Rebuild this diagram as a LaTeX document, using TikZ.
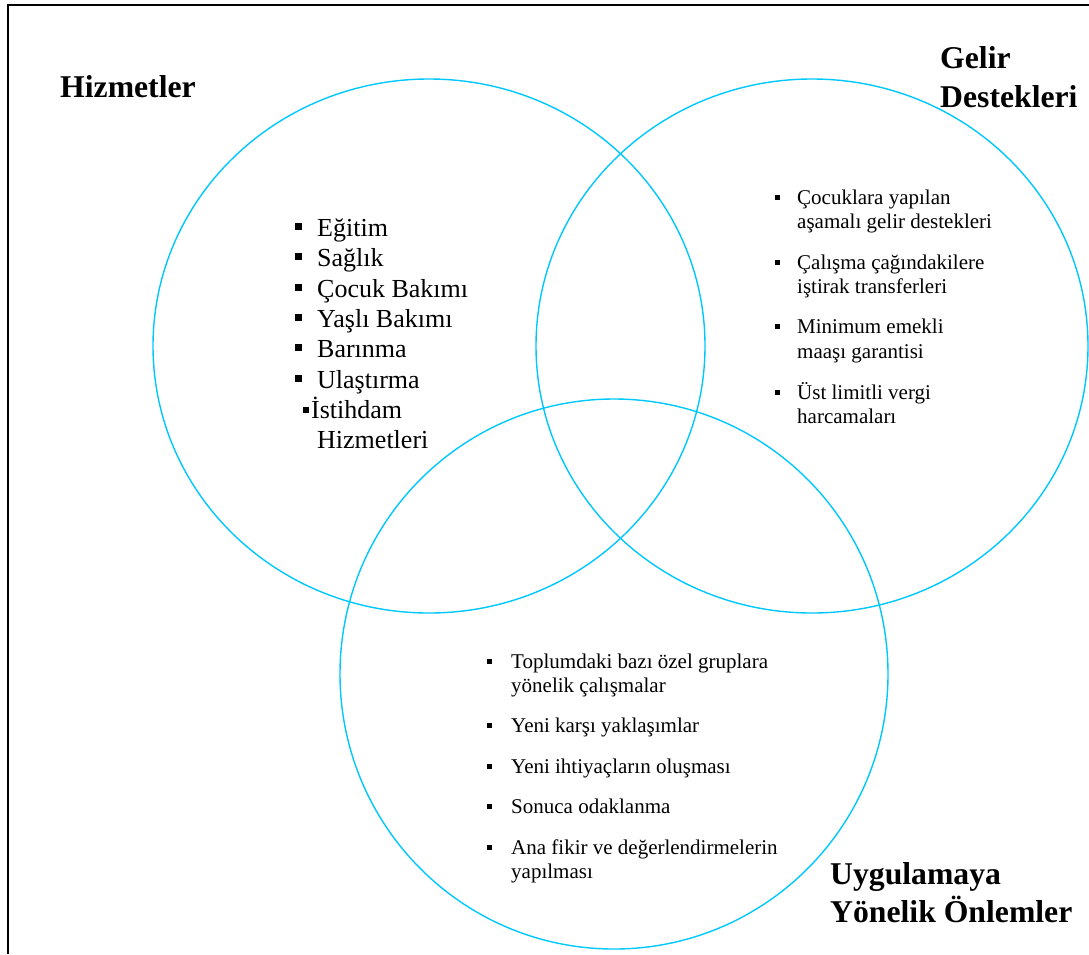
\documentclass[tikz,border=0pt]{standalone}
\usepackage{fontspec}
\setmainfont{Liberation Serif}
\definecolor{vennblue}{RGB}{0,200,255}
\begin{document}
\begin{tikzpicture}[x=1pt,y=-1pt,
  title/.style={font=\fontsize{31.7}{36}\selectfont\bfseries, anchor=base west, inner sep=0pt},
  bigitem/.style={font=\fontsize{26}{30}\selectfont, anchor=base west, inner sep=0pt},
  smallitem/.style={font=\fontsize{21}{24}\selectfont, anchor=base west, inner sep=0pt},
  venn/.style={draw=vennblue, line width=1.4pt},
  frameline/.style={draw=black, line width=1.6pt}]
\useasboundingbox (0,0) rectangle (1089,954);
\draw[frameline] (8,954) -- (8,5) -- (1089,5);

% circles
\draw[venn] (429,346) ellipse [x radius=276pt, y radius=267pt];
\draw[venn] (812,346) ellipse [x radius=276pt, y radius=267pt];
\draw[venn] (614,674) ellipse [x radius=274pt, y radius=275pt];

% titles
\node[title] (hiz) at (60,97) {Hizmetler};
\node[title] (gel1) at (940,68) {Gelir};
\node[title] (gel2) at (940,107) {Destekleri};
\node[title] (uyg1) at (830,884) {Uygulamaya};
\node[title] (uyg2) at (830,922) {Yönelik Önlemler};

% left list
\node[bigitem] (l1) at (317,236) {Eğitim};
\node[bigitem] (l2) at (317,266) {Sağlık};
\node[bigitem] (l3) at (317,297) {Çocuk Bakımı};
\node[bigitem] (l4) at (317,327) {Yaşlı Bakımı};
\node[bigitem] (l5) at (317,357) {Barınma};
\node[bigitem] (l6) at (317,388) {Ulaştırma};
\node[bigitem] (l7) at (311,418) {İstihdam};
\node[bigitem] (l8) at (317,448) {Hizmetleri};
\foreach \b in {236,266,297,327,357,388}
  \fill (295,\b-6) rectangle ++(7,-7);
\fill (303,413) rectangle ++(6,-6);

% right list
\node[smallitem] (r1) at (797,204) {Çocuklara yapılan};
\node[smallitem] (r2) at (797,228) {aşamalı gelir destekleri};
\node[smallitem] (r3) at (797,269) {Çalışma çağındakilere};
\node[smallitem] (r4) at (797,293) {iştirak transferleri};
\node[smallitem] (r5) at (797,333) {Minimum emekli};
\node[smallitem] (r6) at (797,358) {maaşı garantisi};
\node[smallitem] (r7) at (797,399) {Üst limitli vergi};
\node[smallitem] (r8) at (797,423) {harcamaları};
\foreach \b in {204,269,333,399}
  \fill (775,\b-4) rectangle ++(5,-5);

% bottom list
\node[smallitem] (b1) at (511,668) {Toplumdaki bazı özel gruplara};
\node[smallitem] (b2) at (511,692) {yönelik çalışmalar};
\node[smallitem] (b3) at (511,732) {Yeni karşı yaklaşımlar};
\node[smallitem] (b4) at (511,773) {Yeni ihtiyaçların oluşması};
\node[smallitem] (b5) at (511,813) {Sonuca odaklanma};
\node[smallitem] (b6) at (511,854) {Ana fikir ve değerlendirmelerin};
\node[smallitem] (b7) at (511,878) {yapılması};
\foreach \b in {668,732,773,813,854}
  \fill (487,\b-4) rectangle ++(5,-5);
\end{tikzpicture}
\end{document}
